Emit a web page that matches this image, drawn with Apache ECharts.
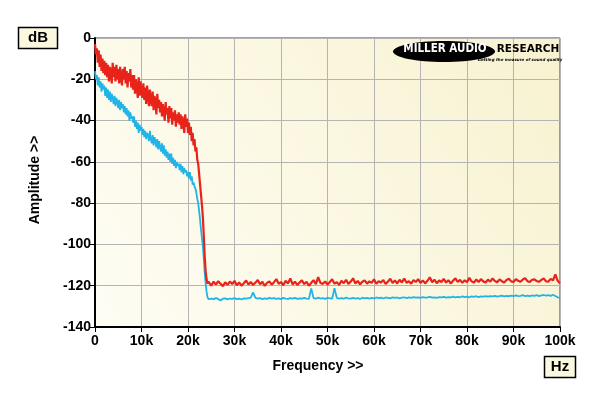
<!DOCTYPE html>
<html>
<head>
<meta charset="utf-8">
<script src="https://cdn.jsdelivr.net/npm/echarts@6/dist/echarts.min.js"></script>
<style>html,body{margin:0;padding:0;background:#fff}#c{width:600px;height:396px}</style>
</head>
<body>
<div id="c"></div>
<script>
// ---- data ----
const xTicks = [0,10000,20000,30000,40000,50000,60000,70000,80000,90000,100000];
const yTicks = [0,-20,-40,-60,-80,-100,-120,-140];

// low-frequency section: 0 .. 22000 Hz, one value every 200 Hz
const lowStart = 0, lowStep = 200;
const redLow = [
 -3,-8,-5,-12,-6,-14,-8,-16,-10,-17,-11,
 -18,-12,-19,-13,-21,-14,-17,-22,-12,-19,
 -14,-21,-13,-20,-15,-22,-14,-19,-23,-15,
 -20,-14,-22,-16,-24,-17,-21,-15,-24,-18,
 -25,-18,-27,-20,-24,-29,-19,-28,-21,-26,
 -29,-22,-30,-24,-32,-23,-28,-33,-25,-30,
 -33,-26,-35,-28,-31,-37,-27,-34,-30,-36,
 -31,-38,-32,-36,-40,-31,-37,-34,-41,-33,
 -39,-34,-42,-36,-40,-35,-43,-37,-41,-36,
 -42,-37,-44,-38,-41,-46,-37,-43,-39,-46,
 -41,-47,-43,-50,-46,-52,-49,-55,-53,-59
];
const blueLow = [
 -16,-20,-18,-23,-19,-24,-21,-26,-22,-25,-23,
 -28,-24,-29,-25,-30,-26,-31,-27,-29,-32,
 -28,-33,-29,-31,-34,-30,-35,-31,-34,-32,
 -36,-33,-37,-34,-38,-35,-40,-36,-39,-38,
 -41,-38,-43,-40,-44,-41,-46,-42,-45,-43,
 -47,-44,-48,-45,-49,-46,-47,-50,-45,-49,
 -51,-47,-52,-48,-50,-53,-49,-54,-50,-53,
 -55,-51,-56,-52,-57,-54,-58,-55,-59,-56,
 -60,-56,-61,-58,-62,-59,-63,-60,-62,-61,
 -64,-61,-65,-62,-66,-63,-65,-64,-67,-65,
 -68,-65,-69,-67,-71,-70,-72,-73,-75,-78
];

// filter roll-off section [Hz, dB]
const redDrop = [[22200,-61],[22400,-66],[22600,-71],[22800,-76],[23000,-81],[23200,-87],
 [23400,-96],[23600,-106],[23800,-113],[24000,-117],[24200,-119],[24400,-118]];
const blueDrop = [[22200,-80],[22400,-84],[22600,-88],[22800,-93],[23000,-97],[23200,-101],
 [23400,-107],[23600,-114],[23800,-119],[24000,-123],[24200,-125.5],[24400,-126.5]];

// noise-floor section: 24500 .. 100000 Hz, one value every 500 Hz
const highStart = 24500, highStep = 500;
const redHigh = [
 -118.5,-120,-118,-119.5,-117.8,-119,-120.2,-118.3,-119.6,-118,
 -119.2,-117.6,-119.8,-118.4,-120,-118.8,-117.5,-119.4,-118.2,-119.7,
 -118.5,-117.2,-119.3,-118.1,-120.1,-118.6,-117.9,-119.5,-118.3,-116.8,
 -119.1,-118.2,-119.8,-117.6,-118.9,-116.5,-119.4,-118,-119.6,-118.4,
 -117.4,-119.2,-118.1,-120,-118.6,-117.3,-119.3,-115.8,-118.7,-119.1,
 -117.9,-119.4,-118.2,-116.9,-119,-118.3,-119.6,-117.6,-118.8,-117.2,
 -119.1,-118,-116.4,-118.9,-117.7,-119.3,-118.1,-117.4,-119,-117.9,
 -118.6,-116.9,-119.1,-117.8,-118.4,-117.2,-119.2,-118,-116.6,-118.7,
 -117.5,-118.9,-117.1,-118.4,-116.5,-118.6,-117.8,-119,-117.3,-118.2,
 -116.8,-118.7,-117.4,-118.9,-117.6,-115.9,-118.3,-117.1,-118.8,-117.5,
 -118.2,-116.7,-118.5,-117.3,-118.9,-117.6,-116.4,-118.1,-117.2,-118.6,
 -117.4,-118.3,-116.2,-117.9,-118.5,-117,-118.2,-116.8,-117.9,-118.4,
 -117.1,-118,-116.5,-117.7,-118.3,-116.9,-117.8,-118.4,-117.2,-116.6,
 -117.9,-118.2,-116.8,-117.6,-118.1,-117,-116.3,-117.8,-118.2,-117.1,
 -116.9,-117.8,-118.1,-117.2,-116.5,-117.9,-118,-116.7,-117.4,-114.5,
 -117.6,-118.8
];
const blueHigh = [
 -126.6,-126.2,-126.5,-126,-126.4,-127.2,-126.3,-126.1,-126.6,-126.2,
 -126.4,-126,-126.5,-126.2,-126.7,-126.1,-126.3,-126,-125.8,-123.2,
 -125.9,-126.3,-126,-126.5,-126.1,-126.4,-125.9,-126.3,-126,-126.4,
 -126.1,-126.5,-125.9,-126.2,-126.4,-126,-126.3,-125.9,-126.4,-126.1,
 -126.3,-125.9,-126.2,-126.4,-121.3,-126,-126.3,-125.8,-126.2,-126,
 -126.4,-125.9,-126.1,-126.3,-121.2,-125.9,-126.2,-126,-126.3,-125.8,
 -126.1,-126.3,-125.9,-126.2,-126,-126.4,-125.8,-126.1,-125.9,-126.2,
 -125.9,-126.1,-125.7,-126,-125.8,-126.2,-125.7,-125.9,-126.1,-125.6,
 -125.9,-125.7,-126.1,-125.8,-125.6,-126,-125.7,-125.9,-125.5,-125.8,
 -125.6,-125.9,-125.5,-125.8,-125.7,-125.4,-125.8,-125.6,-125.9,-125.5,
 -125.7,-125.4,-125.8,-125.5,-125.6,-125.3,-125.7,-125.4,-125.6,-125.2,
 -125.5,-125.3,-125.6,-125.2,-125.4,-125.1,-125.5,-125.2,-125.3,-125,
 -125.3,-125,-125.2,-124.9,-125.3,-125,-124.8,-125.2,-124.9,-125.1,
 -124.8,-125.1,-124.7,-125,-124.9,-124.6,-125,-124.8,-125.1,-124.7,
 -124.9,-124.6,-125,-124.7,-124.5,-124.8,-124.6,-124.9,-124.4,-125,
 -125.6,-125.9
];

function build(low, drop, high){
  const out = [];
  low.forEach((v,i)=>out.push([lowStart + i*lowStep, v]));
  drop.forEach(p=>out.push(p));
  high.forEach((v,i)=>out.push([highStart + i*highStep, v]));
  return out;
}

const chart = echarts.init(document.getElementById('c'), null, {renderer:'canvas'});
const FONT = "'Liberation Sans', Arial, sans-serif";
chart.setOption({
  animation:false,
  backgroundColor:'#ffffff',
  grid:{left:95, right:40, top:38, bottom:69, show:true,
    borderColor:'#444', borderWidth:1,
    backgroundColor:new echarts.graphic.LinearGradient(1,0,0,1,[
      {offset:0,color:'#f8f2d0'},{offset:1,color:'#fefdf4'}])},
  xAxis:{type:'value', min:0, max:100000, interval:10000,
    axisLine:{show:true, onZero:false, lineStyle:{color:'#000', width:2}},
    axisTick:{show:true, length:5, lineStyle:{color:'#000', width:1}},
    axisLabel:{color:'#000', fontFamily:FONT, fontWeight:'bold', fontSize:14, margin:7,
      formatter:v=> v===0 ? '0' : (v/1000)+'k'},
    splitLine:{show:true, lineStyle:{color:'#b4b4b4', width:1}}},
  yAxis:{type:'value', min:-140, max:0, interval:20,
    axisLine:{show:true, onZero:false, lineStyle:{color:'#000', width:2}},
    axisTick:{show:true, length:5, lineStyle:{color:'#000', width:1}},
    axisLabel:{color:'#000', fontFamily:FONT, fontWeight:'bold', fontSize:14, margin:4},
    splitLine:{show:true, lineStyle:{color:'#b4b4b4', width:1}}},
  series:[
    {type:'line', name:'blue', data:build(blueLow, blueDrop, blueHigh), showSymbol:false,
      lineStyle:{color:'#22b4e6', width:1.8}, z:3},
    {type:'line', name:'red', data:build(redLow, redDrop, redHigh), showSymbol:false,
      lineStyle:{color:'#e8241a', width:2.2}, z:4}
  ],
  graphic:[
    {type:'rect', shape:{x:18.5,y:27.5,width:39,height:21}, style:{fill:'#fbf8e0', stroke:'#000', lineWidth:1.5}},
    {type:'text', x:38, y:38, style:{text:'dB', font:'bold 15px '+FONT, fill:'#000', align:'center', verticalAlign:'middle'}},
    {type:'rect', shape:{x:544.5,y:356.5,width:31,height:21}, style:{fill:'#fbf8e0', stroke:'#000', lineWidth:1.5}},
    {type:'text', x:560, y:367, style:{text:'Hz', font:'bold 15px '+FONT, fill:'#000', align:'center', verticalAlign:'middle'}},
    {type:'text', x:318, y:366, style:{text:'Frequency >>', font:'bold 14px '+FONT, fill:'#000', align:'center', verticalAlign:'middle'}},
    {type:'text', x:35, y:180, rotation:Math.PI/2, style:{text:'Amplitude >>', font:'bold 14px '+FONT, fill:'#000', align:'center', verticalAlign:'middle'}},
    {type:'ellipse', shape:{cx:444, cy:51.5, rx:51, ry:10.5}, style:{fill:'#000'}, z:10},
    {type:'text', x:445, y:49, z:11, style:{text:'MILLER AUDIO', font:"900 11.5px 'DejaVu Sans Condensed', 'DejaVu Sans', sans-serif", fill:'#fff', align:'center', verticalAlign:'middle'}},
    {type:'text', x:528, y:49, z:11, style:{text:'RESEARCH', font:"900 10.5px 'DejaVu Sans', sans-serif", fill:'#000', align:'center', verticalAlign:'middle'}},
    {type:'text', x:520, y:59.5, z:11, style:{text:'Getting the measure of sound quality', font:"italic bold 4px 'DejaVu Sans', sans-serif", fill:'#000', align:'center', verticalAlign:'middle'}}
  ]
});
</script>
</body>
</html>
